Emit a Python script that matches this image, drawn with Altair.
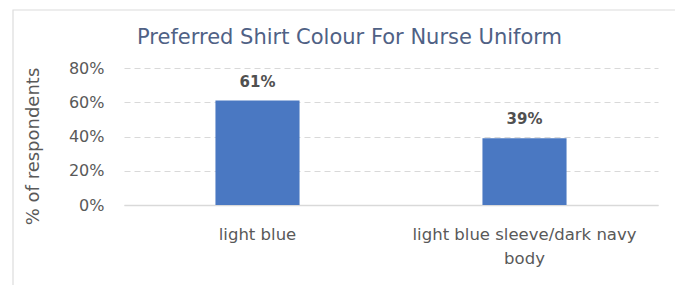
import altair as alt
import pandas as pd

categories = ["light blue", "light blue sleeve/dark navy body"]
values = [0.61, 0.39]
labels = ["61%", "39%"]
y_ticks = [0, 0.2, 0.4, 0.6, 0.8]
chart_title = "Preferred Shirt Colour For Nurse Uniform"

df = pd.DataFrame({"cat": categories, "val": values, "lbl": labels})

FONT = "DejaVu Sans"
GREY = "#595959"

x_enc = alt.X(
    "cat:N",
    sort=categories,
    scale=alt.Scale(paddingInner=0.685, paddingOuter=0.3425),
    axis=alt.Axis(
        title=None,
        labelAngle=0,
        labelFont=FONT,
        labelFontSize=16.5,
        labelColor=GREY,
        labelPadding=21,
        labelLineHeight=24,
        labelLimit=400,
        labelExpr="datum.label == 'light blue sleeve/dark navy body' ? ['light blue sleeve/dark navy', 'body'] : datum.label",
        ticks=False,
        domain=True,
        domainColor="#d9d9d9",
        domainWidth=1.5,
        grid=False,
    ),
)

y_enc = alt.Y(
    "val:Q",
    scale=alt.Scale(domain=[0, 0.8]),
    axis=alt.Axis(
        title="% of respondents",
        titleFont=FONT,
        titleFontSize=18,
        titleFontWeight="normal",
        titleColor=GREY,
        titlePadding=26,
        titleY=78,
        format=".0%",
        values=y_ticks,
        labelFont=FONT,
        labelFontSize=16,
        labelColor=GREY,
        labelPadding=20,
        labelOverlap=False,
        ticks=False,
        domain=False,
        grid=True,
        gridColor="#d9d9d9",
        gridDash=[6, 4],
        gridWidth=1.2,
    ),
)

frame = alt.Chart(pd.DataFrame({"k": [0]})).mark_rect(
    fill=None, stroke="#dcdcdc", strokeWidth=1.2
).encode(
    x=alt.value(-111), x2=alt.value(700), y=alt.value(-58), y2=alt.value(400)
)

title_mark = alt.Chart(pd.DataFrame({"t": [chart_title]})).mark_text(
    font=FONT, fontSize=21, color="#4f6185", align="left", baseline="alphabetic"
).encode(x=alt.value(13), y=alt.value(-24), text="t:N")

bars = alt.Chart(df).mark_bar(color="#4a78c2").encode(x=x_enc, y=y_enc)

text = alt.Chart(df).mark_text(
    font=FONT, fontSize=15, color="#505050", fontWeight="bold", baseline="alphabetic", dy=-14
).encode(x=x_enc, y=y_enc, text="lbl:N")

chart = alt.layer(frame, title_mark, bars, text).properties(
    width=534,
    height=137,
    padding={"left": 116, "top": 60, "right": 17, "bottom": 80},
    autosize=alt.AutoSizeParams(type="none"),
).configure(background="white").configure_view(stroke=None)

chart.save("out.html", embed_options={"renderer": "svg", "actions": False})
